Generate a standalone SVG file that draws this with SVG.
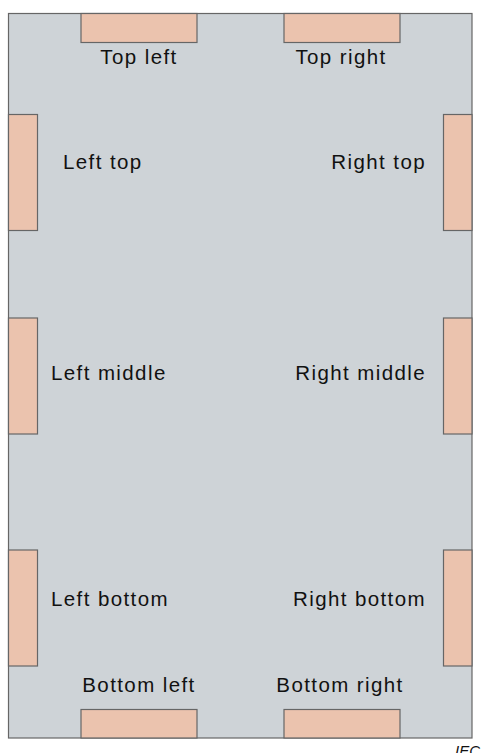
<svg xmlns="http://www.w3.org/2000/svg" width="482" height="753" viewBox="0 0 482 753">
<style>
.frame{fill:#CED3D7;stroke:#666;stroke-width:1.2}
.pin{fill:#EBC3AE;stroke:#666;stroke-width:1.2}
.lbl{font-family:"Liberation Sans",Arial,sans-serif;font-size:20.5px;letter-spacing:1.4px;fill:#111}
.mid{text-anchor:middle}
.end{text-anchor:end}
.iec{font-family:"Liberation Sans",Arial,sans-serif;font-size:15px;font-style:italic;fill:#111}
</style>
<g id="frame"><rect class="frame" x="8.5" y="13.5" width="463.5" height="724.5"/></g>
<g id="top-left"><rect class="pin" x="81" y="13.5" width="116" height="29"/><text class="lbl mid" x="139" y="64">Top left</text></g>
<g id="top-right"><rect class="pin" x="284" y="13.5" width="116" height="29"/><text class="lbl mid" x="341" y="64">Top right</text></g>
<g id="left-top"><rect class="pin" x="8.5" y="114.5" width="29" height="116"/><text class="lbl" x="63" y="169">Left top</text></g>
<g id="right-top"><rect class="pin" x="443.5" y="114.5" width="28.5" height="116"/><text class="lbl end" x="426" y="169">Right top</text></g>
<g id="left-middle"><rect class="pin" x="8.5" y="318" width="29" height="116"/><text class="lbl" x="51" y="380">Left middle</text></g>
<g id="right-middle"><rect class="pin" x="443.5" y="318" width="28.5" height="116"/><text class="lbl end" x="426" y="380">Right middle</text></g>
<g id="left-bottom"><rect class="pin" x="8.5" y="550" width="29" height="116"/><text class="lbl" x="51" y="606">Left bottom</text></g>
<g id="right-bottom"><rect class="pin" x="443.5" y="550" width="28.5" height="116"/><text class="lbl end" x="426" y="606">Right bottom</text></g>
<g id="bottom-left"><rect class="pin" x="81" y="709.5" width="116" height="28.5"/><text class="lbl mid" x="139" y="692">Bottom left</text></g>
<g id="bottom-right"><rect class="pin" x="284" y="709.5" width="116" height="28.5"/><text class="lbl mid" x="340" y="692">Bottom right</text></g>
<g id="connectors"></g>
<text class="iec" x="455" y="756">IEC</text>
</svg>
